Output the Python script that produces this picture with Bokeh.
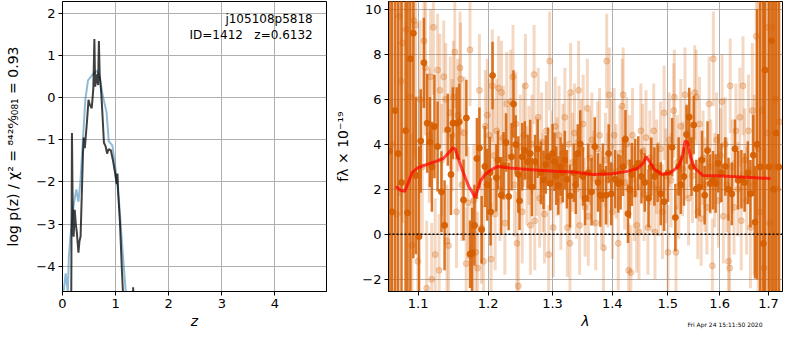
import numpy as np
from bokeh.plotting import figure
from bokeh.layouts import row
from bokeh.models import Range1d, FixedTicker, PrintfTickFormatter, Label, Span, Title
from bokeh.embed import file_html
from bokeh.resources import INLINE

FONT = "DejaVu Sans"
DARK = "#d55e00"

# ---------------- left panel: log p(z) ----------------
pz_z = [0.00, 0.14, 0.165, 0.178, 0.195, 0.21, 0.23, 0.25, 0.27, 0.30, 0.32, 0.34, 0.37,
        0.385, 0.40, 0.42, 0.46, 0.49, 0.51, 0.55, 0.58, 0.60, 0.615, 0.64, 0.65, 0.67,
        0.685, 0.70, 0.73, 0.75, 0.78, 0.81, 0.84, 0.87, 0.91, 0.95, 0.99, 1.02, 1.035,
        1.05, 1.08, 1.12, 1.16, 1.22, 1.30, 1.325, 1.33, 1.34, 1.40]
pz_logp = [-9.0, -6.0, -4.7, -0.84, -3.0, -3.3, -2.66, -3.0, -3.2, -3.68, -3.4, -3.3, -2.0,
           -1.33, -0.95, -1.2, -0.58, -0.05, -0.16, -0.25, 0.2, 1.39, 0.26, 0.55, 0.41, 0.3,
           1.34, 0.56, 0.1, -0.35, -1.07, -1.15, -1.33, -1.22, -1.25, -1.49, -1.79, -2.05, -1.8,
           -2.3, -2.92, -4.14, -5.2, -6.5, -5.6, -4.9, -4.5, -5.0, -7.0]

prior_z = [0.00, 0.03, 0.06, 0.08, 0.10, 0.12, 0.16, 0.21, 0.26, 0.30, 0.34, 0.39, 0.43,
           0.48, 0.57, 0.65, 0.71, 0.76, 0.83, 0.87, 0.94, 1.00, 1.06, 1.12, 1.19, 1.25]
prior_logp = [-4.75, -4.5, -4.17, -4.4, -4.6, -3.76, -3.15, -2.55, -2.18, -2.47, -1.94, -0.88,
              -0.05, 0.41, 0.55, 0.64, 0.41, 0.03, -0.35, -1.03, -1.14, -1.71, -2.39, -3.45,
              -4.6, -6.0]

z_ticks = [0, 1, 2, 3, 4]
logp_ticks = [-4, -3, -2, -1, 0, 1, 2]
label_name = "j105108p5818"
label_id = "ID=1412\u00a0\u00a0\u00a0z=0.6132"

# ---------------- right panel: spectrum ----------------
dark_wave = [1.0617, 1.0649, 1.0690, 1.0731, 1.0776, 1.0830, 1.0857, 1.0895, 1.0935, 1.0970,
             1.1013, 1.1036, 1.1080, 1.1125, 1.1162, 1.1190, 1.1226, 1.1270, 1.1324, 1.1368,
             1.1413, 1.1459, 1.1486, 1.1540, 1.1578, 1.1639, 1.1680, 1.1733, 1.1764, 1.1798,
             1.1834, 1.1871, 1.1904, 1.1951, 1.1985, 1.2028, 1.2037, 1.2066, 1.2124, 1.2148,
             1.2197, 1.2232, 1.2270, 1.2310, 1.2354, 1.2384, 1.2418, 1.2459, 1.2478, 1.2519,
             1.2559, 1.2604, 1.2644, 1.2670, 1.2721, 1.2762, 1.2813, 1.2855, 1.2890, 1.2927,
             1.2963, 1.3000, 1.3031, 1.3060, 1.3094, 1.3130, 1.3164, 1.3200, 1.3233, 1.3284,
             1.3348, 1.3380, 1.3413, 1.3455, 1.3499, 1.3536, 1.3590, 1.3645, 1.3700, 1.3755,
             1.3795, 1.3838, 1.3894, 1.3938, 1.3983, 1.4050, 1.4106, 1.4147, 1.4190, 1.4232,
             1.4277, 1.4310, 1.4346, 1.4405, 1.4460, 1.4518, 1.4577, 1.4647, 1.4693, 1.4753,
             1.4812, 1.4871, 1.4932, 1.5004, 1.5082, 1.5142, 1.5204, 1.5245, 1.5305, 1.5355,
             1.5405, 1.5448, 1.5491, 1.5541, 1.5603, 1.5653, 1.5704, 1.5760, 1.5810, 1.5867,
             1.5919, 1.5971, 1.6034, 1.6111, 1.6176, 1.6242, 1.6306, 1.6371, 1.6438, 1.6503,
             1.6569, 1.6622, 1.6682, 1.6716, 1.6760, 1.6824, 1.6891, 1.6925, 1.7007, 1.7062,
             1.7108, 1.7160, 1.7218]
dark_flux = [3.7, 1.0, 5.5, 3.59, 2.3, 4.61, 0.96, 7.8, 8.94, 2.62,
             -0.1, 4.15, 7.63, 4.94, 4.1, 3.0, 4.79, 3.9, 1.89, 0.4,
             4.65, 2.66, 4.94, 4.94, 5.0, 1.53, 5.17, -0.88, -0.82, 0.4,
             3.37, 3.84, 0.21, 3.02, 2.2, 2.74, 1.0, 7.06, 2.52, 3.3,
             1.74, 3.05, 4.08, 1.68, 3.45, 5.79, 3.99, 2.66, 1.49, 3.45,
             3.73, 3.23, 3.59, 2.1, 3.23, 3.8, 2.74, 2.43, 3.1, 3.45,
             2.26, 3.6, 3.23, 2.6, 2.17, 3.0, 2.74, 3.3, 2.45, 1.71,
             2.74, 2.2, 3.59, 4.02, 2.57, 1.6, 2.74, 1.89, 3.9, 2.31,
             1.74, 2.74, 1.74, 3.59, 1.8, 2.45, 2.26, 2.3, 3.0, 4.23,
             0.92, 2.0, 2.66, 2.95, 3.16, 2.57, 2.31, 1.6, 3.0, 2.57,
             2.74, 1.8, 1.45, 2.74, 3.87, 0.75, 3.02, 2.2, 2.57, 4.44,
             5.22, 3.0, 4.86, 2.02, 2.1, 3.3, 1.74, 3.73, 2.26, 2.4,
             2.26, 3.16, 2.74, 3.02, 2.0, 1.8, 3.8, 2.4, 2.45, 2.31,
             2.74, 1.8, 3.52, 0.54, 4.0, 3.0, -0.41, 7.3, 3.0, 8.6,
             2.0, 4.5, 2.99]
dark_err = [20, 20, 20, 20, 20, 20, 20, 12, 10, 3.5,
            4.0, 2.3, 2.0, 2.2, 2.0, 2.0, 2.3, 2.0, 1.8, 2.0,
            1.6, 1.8, 1.6, 1.6, 1.7, 1.8, 1.7, 1.5, 2.0, 1.8,
            1.8, 1.8, 1.5, 1.8, 1.6, 1.6, 1.5, 1.5, 1.5, 1.3,
            1.7, 1.5, 1.3, 1.5, 1.5, 1.5, 1.3, 1.7, 1.3, 1.5,
            1.3, 1.2, 1.5, 1.3, 1.2, 1.3, 1.4, 1.3, 1.3, 1.3,
            1.2, 1.3, 1.3, 1.3, 1.3, 1.3, 1.3, 1.3, 1.3, 1.4,
            1.3, 1.3, 1.3, 1.5, 1.3, 1.2, 1.3, 1.5, 1.3, 1.3,
            1.4, 1.3, 1.3, 1.3, 1.4, 1.3, 1.3, 1.2, 1.3, 1.3,
            1.3, 1.3, 1.4, 1.3, 1.2, 1.2, 1.3, 1.3, 1.3, 1.3,
            1.3, 1.4, 1.3, 1.3, 1.3, 1.5, 1.3, 1.3, 1.3, 1.3,
            1.3, 1.3, 1.3, 1.3, 1.3, 1.3, 1.3, 1.3, 1.3, 1.3,
            1.3, 1.3, 1.3, 1.3, 1.4, 1.4, 1.3, 1.3, 1.3, 1.3,
            1.4, 1.5, 1.8, 2.5, 6.0, 12, 12, 12, 15, 15,
            15, 15, 15]

light_wave = [1.0649, 1.0709, 1.0749, 1.0770, 1.0790, 1.0839, 1.0882, 1.0917, 1.0942, 1.0966,
              1.0996, 1.1027, 1.1057, 1.1081, 1.1102, 1.1118, 1.1155, 1.1172, 1.1187, 1.1211,
              1.1236, 1.1270, 1.1291, 1.1302, 1.1327, 1.1356, 1.1384, 1.1401, 1.1425, 1.1449,
              1.1476, 1.1494, 1.1513, 1.1538, 1.1557, 1.1588, 1.1597, 1.1614, 1.1649, 1.1677,
              1.1704, 1.1733, 1.1761, 1.1789, 1.1817, 1.1843, 1.1871, 1.1900, 1.1932, 1.1958,
              1.1987, 1.2018, 1.2044, 1.2062, 1.2083, 1.2105, 1.2127, 1.2156, 1.2178, 1.2200,
              1.2229, 1.2252, 1.2281, 1.2310, 1.2340, 1.2377, 1.2400, 1.2421, 1.2437, 1.2459,
              1.2489, 1.2519, 1.2541, 1.2569, 1.2593, 1.2624, 1.2647, 1.2670, 1.2705, 1.2716,
              1.2747, 1.2770, 1.2793, 1.2824, 1.2847, 1.2870, 1.2901, 1.2937, 1.2953, 1.2979,
              1.3011, 1.3042, 1.3074, 1.3105, 1.3135, 1.3168, 1.3200, 1.3241, 1.3264, 1.3284,
              1.3294, 1.3327, 1.3359, 1.3391, 1.3428, 1.3444, 1.3472, 1.3504, 1.3536, 1.3574,
              1.3590, 1.3617, 1.3650, 1.3683, 1.3716, 1.3749, 1.3782, 1.3816, 1.3849, 1.3882,
              1.3904, 1.3924, 1.3948, 1.3974, 1.4004, 1.4033, 1.4067, 1.4106, 1.4136, 1.4175,
              1.4192, 1.4220, 1.4255, 1.4288, 1.4306, 1.4328, 1.4358, 1.4391, 1.4432, 1.4473,
              1.4507, 1.4539, 1.4565, 1.4600, 1.4635, 1.4670, 1.4705, 1.4741, 1.4764, 1.4794,
              1.4830, 1.4866, 1.4902, 1.4932, 1.4964, 1.5004, 1.5027, 1.5063, 1.5112, 1.5123,
              1.5154, 1.5181, 1.5208, 1.5245, 1.5282, 1.5324, 1.5355, 1.5392, 1.5429, 1.5467,
              1.5510, 1.5541, 1.5570, 1.5603, 1.5635, 1.5672, 1.5710, 1.5747, 1.5791, 1.5824,
              1.5856, 1.5874, 1.5900, 1.5938, 1.5976, 1.6015, 1.6047, 1.6072, 1.6111, 1.6141,
              1.6176, 1.6199, 1.6210, 1.6248, 1.6287, 1.6326, 1.6365, 1.6404, 1.6434, 1.6469,
              1.6503, 1.6543, 1.6582, 1.6622, 1.6662, 1.6702, 1.6743, 1.6783, 1.6824, 1.6864,
              1.6904, 1.6945, 1.6986, 1.7027, 1.7068, 1.7108, 1.7149, 1.7190, 1.7232]
light_flux = [4.0, 0.9, 9.7, 6.8, 8.5, 9.1, 6.1, -0.5, 9.5, 9.3,
              -1.2, 6.0, 3.0, 8.6, 7.4, -2.4, 4.4, 7.0, -2.0, 9.2,
              -0.9, 7.3, -1.6, 6.4, 3.3, 7.0, 6.0, -0.3, -0.5, 5.4,
              4.4, 6.1, 8.1, 1.0, 5.3, 7.4, 6.9, 2.2, 4.5, -1.3,
              1.4, 8.2, -0.9, 1.5, -0.8, -1.5, 6.4, 0.3, -1.2, 4.8,
              5.3, 4.4, -1.1, 6.6, 3.5, 0.9, 4.6, 6.5, 2.0, 6.3,
              4.3, 0.5, 5.8, 3.4, 5.9, 7.0, 2.2, 4.9, -0.4, -2.3,
              3.9, 1.0, 4.4, 6.6, 2.6, 3.5, 0.4, 4.0, 7.1, 0.6,
              3.0, 5.2, 1.6, 4.1, 2.3, 0.9, 4.6, -0.9, 7.7, 3.3,
              0.3, 4.8, 3.0, 4.4, 1.5, 3.6, 5.2, 0.3, 4.0, -0.4,
              6.3, 3.2, 4.5, 2.0, 6.4, 0.4, 3.8, 4.9, 1.2, 5.6,
              0.8, 3.4, 4.2, 2.5, 0.5, 3.8, 4.4, 1.6, -0.6, 3.3,
              7.7, 2.4, 6.2, 3.9, 1.0, 4.4, 2.8, -0.4, 3.6, 5.7,
              6.2, 2.3, 4.0, -1.6, 3.2, -1.7, 4.4, 1.8, 0.4, 0.1,
              4.6, 3.7, 1.8, 4.3, 0.3, 3.4, 2.2, 4.6, 0.1, 3.0,
              2.0, 3.8, 1.0, 5.4, 2.6, -0.8, 4.2, 2.4, 5.5, 6.1,
              -0.8, 3.2, 1.9, 4.8, 2.9, 6.2, 3.7, 1.6, 4.2, 2.6,
              6.3, 6.1, 1.0, 4.9, 0.7, 3.4, 2.2, 1.2, 5.8, 3.0,
              -1.4, 7.8, 2.4, 4.2, 1.5, 3.5, 5.9, 0.8, 4.0, 2.2,
              -1.2, -1.5, 6.6, 3.0, 1.2, 4.6, 2.0, 5.2, 0.6, 6.6,
              3.3, 1.5, 4.6, 0.3, 5.5, 2.2, 8.8, 3.8, 1.0, 5.5,
              -1.5, 9.2, 4.5, 0.5, 9.2, 3.0, 6.0, 2.0, 5.0]
light_err = [12, 10, 8, 6, 8, 7, 5, 5, 6, 6,
             4, 3.5, 3, 3, 3, 3, 3, 3, 2.5, 3,
             2.5, 2.5, 2.5, 2.5, 2.5, 2.5, 2.5, 2.5, 2.5, 2.5,
             2.5, 2.5, 2.5, 2.5, 2.5, 2.5, 2.5, 2.5, 2.5, 2.5,
             2.5, 2.5, 2.5, 2.5, 2.5, 2.5, 2.5, 2.5, 2.5, 2.5,
             2.5, 2.5, 2.5, 2.5, 2.5, 2.5, 2.3, 2.3, 2.3, 2.3,
             2.3, 2.3, 2.3, 2.3, 2.3, 2.3, 2.3, 2.3, 2.3, 2.3,
             2.3, 2.3, 2.3, 2.3, 2.2, 2.2, 2.2, 2.2, 2.2, 2.2,
             2.2, 2.2, 2.2, 2.2, 2.2, 2.2, 2.2, 2.2, 2.2, 2.2,
             2.2, 2.2, 2.2, 2.2, 2.2, 2.2, 2.2, 2.2, 2.2, 2.2,
             2.2, 2.2, 2.2, 2.2, 2.2, 2.2, 2.2, 2.2, 2.2, 2.2,
             2.2, 2.1, 2.1, 2.1, 2.1, 2.1, 2.1, 2.1, 2.1, 2.1,
             2.1, 2.1, 2.1, 2.1, 2.1, 2.1, 2.1, 2.1, 2.1, 2.1,
             2.1, 2.1, 2.1, 2.1, 2.1, 2.1, 2.1, 2.1, 2.1, 2.1,
             2.1, 2.1, 2.1, 2.1, 2.1, 2.1, 2.1, 2.1, 2.1, 2.1,
             2.1, 2.1, 2.1, 2.1, 2.1, 2.1, 2.1, 2.1, 2.1, 2.1,
             2.1, 2.1, 2.1, 2.1, 2.1, 2.1, 2.1, 2.1, 2.1, 2.1,
             2.1, 2.1, 2.1, 2.1, 2.1, 2.1, 2.1, 2.1, 2.1, 2.1,
             2.1, 2.1, 2.1, 2.1, 2.1, 2.1, 2.1, 2.1, 2.1, 2.1,
             2.1, 2.1, 2.1, 2.1, 2.1, 2.1, 2.1, 2.2, 2.2, 2.2,
             2.3, 2.4, 2.5, 2.7, 3, 4, 5, 8, 10, 12,
             12, 12, 12, 12, 12, 12, 12, 12, 12]

model_wave = [1.0700, 1.0761, 1.0817, 1.0861, 1.0917, 1.0992, 1.1102, 1.1236, 1.1349, 1.1417,
              1.1486, 1.1519, 1.1555, 1.1611, 1.1673, 1.1719, 1.1765, 1.1804, 1.1836, 1.1885,
              1.1956, 1.2051, 1.2149, 1.2321, 1.2620, 1.3030, 1.3347, 1.3671, 1.4000, 1.4288,
              1.4460, 1.4547, 1.4605, 1.4665, 1.4753, 1.4901, 1.5050, 1.5203, 1.5276, 1.5324,
              1.5374, 1.5429, 1.5509, 1.5666, 1.5919, 1.6438, 1.7041]
model_flux = [2.13, 1.96, 1.91, 2.24, 2.74, 2.95, 3.09, 3.23, 3.37, 3.59,
              3.84, 3.80, 3.45, 2.95, 2.45, 2.10, 1.89, 1.63, 1.89, 2.38,
              2.66, 2.88, 3.02, 2.95, 2.88, 2.81, 2.77, 2.66, 2.69, 2.81,
              2.95, 3.16, 3.45, 3.23, 2.88, 2.66, 2.74, 3.02, 3.45, 4.15,
              4.08, 3.45, 2.95, 2.62, 2.60, 2.55, 2.48]

wave_ticks = [1.1, 1.2, 1.3, 1.4, 1.5, 1.6, 1.7]
flux_ticks = [-2, 0, 2, 4, 6, 8, 10]
timestamp = "Fri Apr 24 15:11:50 2020"

H = 334
TOP = 1
BOTTOM = 43


def minus(v):
    s = ("%g" % v)
    return s.replace("-", "\u2212")


def style(p):
    p.outline_line_color = "black"
    p.outline_line_width = 1
    p.outline_line_alpha = 1
    p.background_fill_color = "white"
    p.border_fill_color = "white"
    for ax in p.axis:
        ax.axis_line_color = "black"
        ax.major_tick_line_color = "black"
        ax.major_tick_out = 4
        ax.major_tick_in = 0
        ax.minor_tick_out = 0
        ax.minor_tick_in = 0
        ax.major_label_text_font = FONT
        ax.major_label_text_font_size = "13px"
        ax.major_label_text_color = "black"
        ax.major_label_standoff = 3
        ax.axis_label_text_font = FONT
        ax.axis_label_text_font_size = "14px"
        ax.axis_label_text_color = "black"
    for g in p.grid:
        g.grid_line_color = "#b0b0b0"
        g.grid_line_width = 1


# ---- left figure ----
p1 = figure(width=330, height=H, x_range=Range1d(0, 4.97), y_range=Range1d(-4.6, 2.28),
            output_backend="svg", toolbar_location=None,
            min_border_left=62, min_border_right=4, min_border_top=TOP, min_border_bottom=BOTTOM)
style(p1)
zt = FixedTicker(ticks=z_ticks)
lt = FixedTicker(ticks=logp_ticks)
p1.xaxis.ticker = zt
p1.xgrid.ticker = zt
p1.yaxis.ticker = lt
p1.ygrid.ticker = lt
p1.yaxis.major_label_overrides = {t: minus(t) for t in logp_ticks}
p1.xaxis.axis_label = "z"
p1.xaxis.axis_label_text_font_style = "italic"
p1.xaxis.axis_label_standoff = 2
p1.yaxis.axis_label = "log p(z) / \u03c7\u00b2 = \u2078\u2074\u00b2\u2076\u2044\u2089\u2080\u2088\u2081 = 0.93"
p1.yaxis.axis_label_text_font_style = "normal"
p1.yaxis.axis_label_standoff = 12

p1.line(prior_z, prior_logp, color="#1f77b4", alpha=0.5, line_width=2)
p1.line(pz_z, pz_logp, color="black", alpha=0.75, line_width=2)

p1.add_layout(Label(x=4.71, y=1.87, text=label_name, text_align="right", text_baseline="middle",
                    text_font=FONT, text_font_size="12px", text_color="black"))
p1.add_layout(Label(x=4.71, y=1.49, text=label_id, text_align="right", text_baseline="middle",
                    text_font=FONT, text_font_size="12px", text_color="black"))

# ---- right figure ----
p2 = figure(width=454, height=H, x_axis_type="log",
            x_range=Range1d(1.0603, 1.7298), y_range=Range1d(-2.54, 10.35),
            output_backend="svg", toolbar_location=None,
            min_border_left=58, min_border_right=2, min_border_top=TOP, min_border_bottom=BOTTOM)
style(p2)
wt = FixedTicker(ticks=wave_ticks)
ft = FixedTicker(ticks=flux_ticks)
p2.xaxis.ticker = wt
p2.xgrid.ticker = wt
p2.xaxis.formatter = PrintfTickFormatter(format="%.1f")
p2.yaxis.ticker = ft
p2.ygrid.ticker = ft
p2.yaxis.major_label_overrides = {t: minus(t) for t in flux_ticks}
p2.xaxis.axis_label = "\u03bb"
p2.xaxis.axis_label_text_font_style = "italic"
p2.xaxis.axis_label_standoff = 2
p2.yaxis.axis_label = "f\u03bb \u00d7 10\u207b\u00b9\u2079"
p2.yaxis.axis_label_text_font_style = "normal"
p2.yaxis.axis_label_standoff = 8

lw = np.array(light_wave)
lf = np.array(light_flux)
le = np.array(light_err)
dw = np.array(dark_wave)
df = np.array(dark_flux)
de = np.array(dark_err)

p2.segment(x0=lw, y0=lf - le, x1=lw, y1=lf + le, line_color=DARK, line_alpha=0.24, line_width=3)
p2.scatter(lw, lf, size=6, fill_color=DARK, line_color=DARK, fill_alpha=0.25, line_alpha=0.25)
p2.segment(x0=dw, y0=df - de, x1=dw, y1=df + de, line_color=DARK, line_alpha=0.85, line_width=2.5)
p2.scatter(dw, df, size=6, fill_color=DARK, line_color=DARK, fill_alpha=0.9, line_alpha=0.9)

p2.add_layout(Span(location=0, dimension="width", line_color="black", line_dash="2 2", line_width=1.5))
p2.line(model_wave, model_flux, color="red", alpha=0.7, line_width=3)

p2.add_layout(Title(text=timestamp, align="right", vertical_align="top", text_font=FONT,
                    text_font_size="6px", text_font_style="normal", text_color="black",
                    standoff=-22, offset=20), "below")

layout = row(p1, p2)
open("out.html", "w").write(file_html(layout, INLINE))
